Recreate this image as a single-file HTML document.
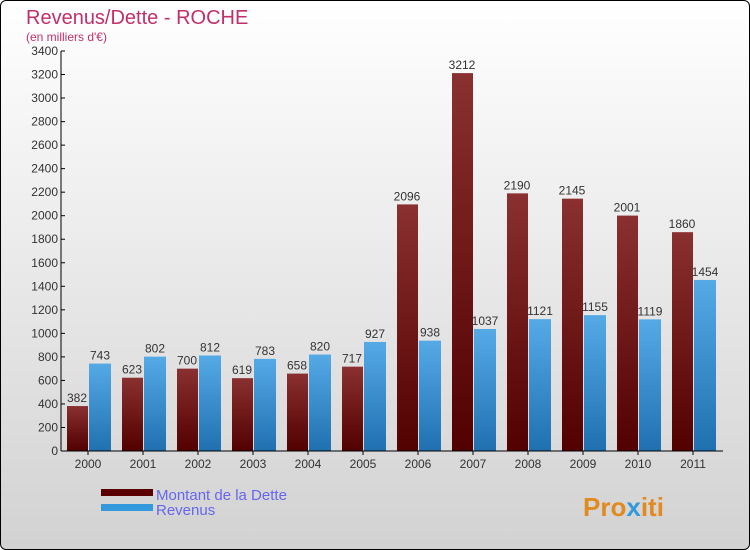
<!DOCTYPE html>
<html><head><meta charset="utf-8"><style>
body{margin:0}
#c{width:748px;height:548px;border:1px solid #000;border-radius:6px;background:linear-gradient(#fff,#d2d2d2);position:relative;overflow:hidden;font-family:"Liberation Sans",sans-serif}
</style></head><body>
<div id="c">
<svg id="s" width="748" height="548" style="position:absolute;left:0;top:0">
<defs>
<linearGradient id="gd" x1="0" y1="0" x2="0" y2="1"><stop offset="0" stop-color="#8a3030"/><stop offset="1" stop-color="#520000"/></linearGradient>
<linearGradient id="gr" x1="0" y1="0" x2="0" y2="1"><stop offset="0" stop-color="#55aae6"/><stop offset="1" stop-color="#2070b0"/></linearGradient>
</defs>
<text x="25" y="23" font-size="20" fill="#c0306a">Revenus/Dette - ROCHE</text>
<text x="25" y="40" font-size="12" fill="#c0306a">(en milliers d'€)</text>
<g id="g"></g>
<rect x="100" y="488" width="52" height="7" fill="#5a0000"/>
<rect x="100" y="503" width="52" height="7" fill="#3399dd"/>
<text x="155" y="499" font-size="15" fill="#6666ee">Montant de la Dette</text>
<text x="155" y="514" font-size="15" fill="#6666ee">Revenus</text>
<text x="582" y="515" font-size="26" font-weight="bold" fill="#e08a20">Pro<tspan fill="#3399dd">x</tspan>iti</text>
</svg>
</div>
<script>
const categories=["2000","2001","2002","2003","2004","2005","2006","2007","2008","2009","2010","2011"];
const dette=[382,623,700,619,658,717,2096,3212,2190,2145,2001,1860];
const revenus=[743,802,812,783,820,927,938,1037,1121,1155,1119,1454];
const ticks=[0,200,400,600,800,1000,1200,1400,1600,1800,2000,2200,2400,2600,2800,3000,3200,3400];
const yMax=3400,y0=450,y1=50,x0=60,gw=55;
const NS="http://www.w3.org/2000/svg";
const g=document.getElementById('g');
function Y(v){return y0-(v/yMax)*(y0-y1);}
function mk(t,a){const e=document.createElementNS(NS,t);for(const k in a)e.setAttribute(k,a[k]);g.appendChild(e);return e;}
ticks.forEach(t=>{
 const l=mk('line',{x1:x0,x2:x0+4,y1:Y(t),y2:Y(t),stroke:'#000'});
 
 
 const tx=mk('text',{x:x0-3,y:Y(t)+4,'font-size':12,'text-anchor':'end',fill:'#333'});
 tx.textContent=t;
 
 
});
categories.forEach((c,i)=>{
 const gx=x0+gw*i;
 const bd=mk('rect',{x:gx+6,y:Y(dette[i]),width:21,height:y0-Y(dette[i]),fill:'url(#gd)'});
 
 
 const br=mk('rect',{x:gx+28,y:Y(revenus[i]),width:22,height:y0-Y(revenus[i]),fill:'url(#gr)'});
 
 
 const ld=mk('text',{x:gx+16,y:Y(dette[i])-4,'font-size':12,'text-anchor':'middle',fill:'#333'});
 ld.textContent=dette[i];
 
 
 const lr=mk('text',{x:gx+39,y:Y(revenus[i])-4,'font-size':12,'text-anchor':'middle',fill:'#333'});
 lr.textContent=revenus[i];
 
 
 const tk=mk('line',{x1:gx+27,x2:gx+27,y1:y0,y2:y0+4,stroke:'#000'});
 
 
 const xl=mk('text',{x:gx+27,y:y0+17,'font-size':12,'text-anchor':'middle',fill:'#333'});
 xl.textContent=c;
 
 
});
const ya=mk('line',{x1:x0,x2:x0,y1:y1,y2:y0,stroke:'#000'});


const xa=mk('line',{x1:x0,x2:722,y1:y0,y2:y0,stroke:'#000'});


</script>
</body></html>
